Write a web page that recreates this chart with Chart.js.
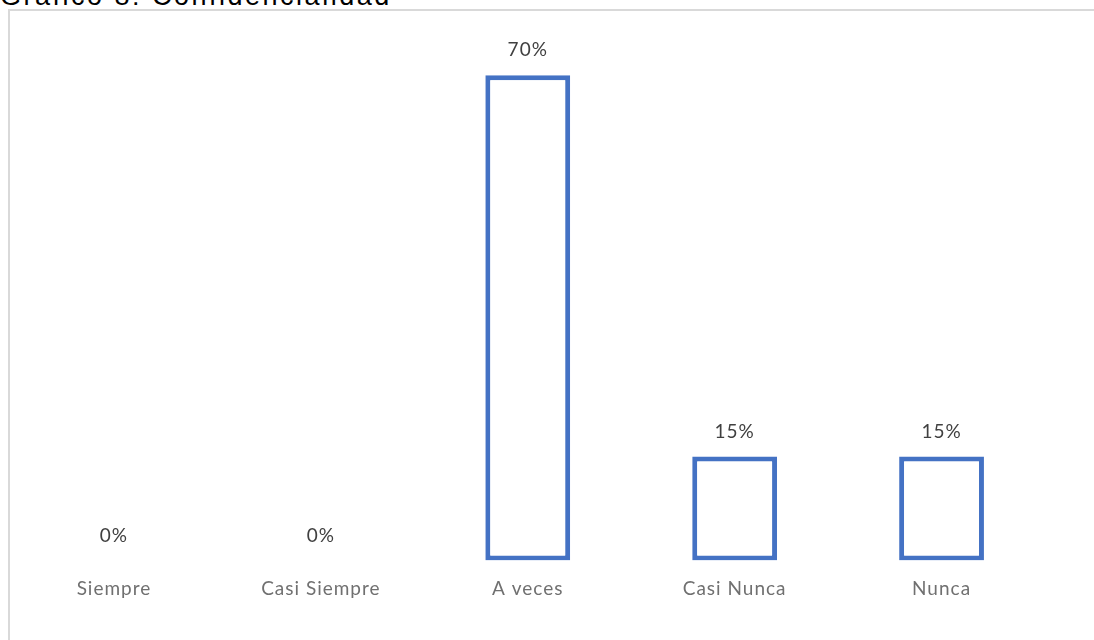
<!DOCTYPE html>
<html>
<head>
<meta charset="utf-8">
<script src="https://cdn.jsdelivr.net/npm/chart.js@4/dist/chart.umd.min.js"></script>
<style>
  body { margin: 0; background: #fff; overflow: hidden; }
  #titolo {
    position: absolute; left: 0; top: -17px;
    font-family: "Liberation Sans", Arial, sans-serif;
    font-size: 27px; line-height: 27px; letter-spacing: 2.5px; color: #000;
    white-space: nowrap;
  }
  #cornice {
    position: absolute; left: 8px; top: 9px; width: 1200px; height: 700px;
    border: 2px solid #d9d9d9;
  }
  #myChart { position: absolute; left: 0; top: 0; }
</style>
</head>
<body>
<div id="titolo">Gráfico 8: Confidencialidad</div>
<div id="cornice"></div>
<canvas id="myChart" width="1094" height="640"></canvas>

<script>
// dati
var categorie = ["Siempre", "Casi Siempre", "A veces", "Casi Nunca", "Nunca"];
var percentuali = [0, 0, 70, 15, 15];
var etichette = ["0%", "0%", "70%", "15%", "15%"];

var blu = "#4472C4";
var font = "Lato, 'Noto Sans', sans-serif";

init();

function init() {
  var ctx = document.getElementById("myChart").getContext("2d");

  // plugin per scrivere le percentuali sopra le barre
  var etichettePlugin = {
    id: "etichette",
    beforeDraw: function(chart) {
      chart.ctx.letterSpacing = "1px";
    },
    afterDatasetsDraw: function(chart) {
      var c = chart.ctx;
      var meta = chart.getDatasetMeta(0);
      c.save();
      c.letterSpacing = "1px";
      c.font = "19px " + font;
      c.fillStyle = "#404040";
      c.textAlign = "center";
      c.textBaseline = "middle";
      for (var i = 0; i < meta.data.length; i++) {
        var bar = meta.data[i];
        c.fillText(etichette[i], bar.x, bar.y - 25);
      }
      c.restore();
    }
  };

  var myChart = new Chart(ctx, {
    type: "bar",
    data: {
      labels: categorie,
      datasets: [{
        data: percentuali,
        backgroundColor: "#ffffff",
        borderColor: blu,
        borderWidth: 5,
        borderSkipped: false,
        barPercentage: 0.41,
        categoryPercentage: 1
      }]
    },
    options: {
      responsive: false,
      animation: false,
      layout: { padding: { left: 10.5, right: 49, top: 6, bottom: 23.6 } },
      plugins: {
        legend: { display: false },
        tooltip: { enabled: false }
      },
      scales: {
        x: {
          grid: { display: false, drawTicks: false },
          border: { display: false },
          ticks: {
            padding: 16.6,
            color: "#707070",
            font: { family: font, size: 19 }
          }
        },
        y: {
          display: false,
          min: 0,
          max: 80
        }
      }
    },
    plugins: [etichettePlugin]
  });
}
</script>
</body>
</html>
